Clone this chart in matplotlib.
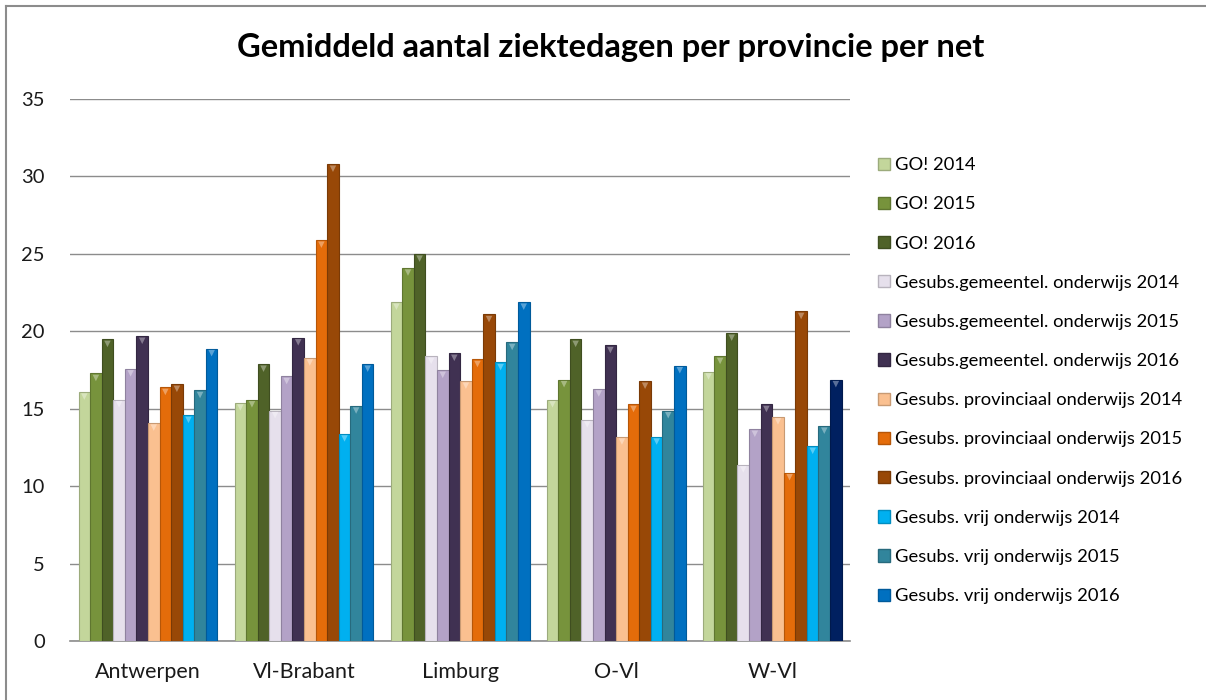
import matplotlib.pyplot as plt
import matplotlib.colors as mcolors
from matplotlib.lines import Line2D
import numpy as np

plt.rcParams['font.family'] = ['Lato', 'DejaVu Sans']

provinces = ["Antwerpen", "Vl-Brabant", "Limburg", "O-Vl", "W-Vl"]

series_names = [
    "GO! 2014", "GO! 2015", "GO! 2016",
    "Gesubs.gemeentel. onderwijs 2014", "Gesubs.gemeentel. onderwijs 2015",
    "Gesubs.gemeentel. onderwijs 2016",
    "Gesubs. provinciaal onderwijs 2014", "Gesubs. provinciaal onderwijs 2015",
    "Gesubs. provinciaal onderwijs 2016",
    "Gesubs. vrij onderwijs 2014", "Gesubs. vrij onderwijs 2015",
    "Gesubs. vrij onderwijs 2016",
]

# one list per series, values for Antwerpen, Vl-Brabant, Limburg, O-Vl, W-Vl
go_2014 = [16.1, 15.4, 21.9, 15.6, 17.4]
go_2015 = [17.3, 15.6, 24.1, 16.9, 18.4]
go_2016 = [19.5, 17.9, 25.0, 19.5, 19.9]
gem_2014 = [15.6, 14.9, 18.4, 14.3, 11.4]
gem_2015 = [17.6, 17.1, 17.5, 16.3, 13.7]
gem_2016 = [19.7, 19.6, 18.6, 19.1, 15.3]
prov_2014 = [14.1, 18.3, 16.8, 13.2, 14.5]
prov_2015 = [16.4, 25.9, 18.2, 15.3, 10.9]
prov_2016 = [16.6, 30.8, 21.1, 16.8, 21.3]
vrij_2014 = [14.6, 13.4, 18.0, 13.2, 12.6]
vrij_2015 = [16.2, 15.2, 19.3, 14.9, 13.9]
vrij_2016 = [18.9, 17.9, 21.9, 17.8, 16.9]

values = [go_2014, go_2015, go_2016, gem_2014, gem_2015, gem_2016,
          prov_2014, prov_2015, prov_2016, vrij_2014, vrij_2015, vrij_2016]

colors = ["#c3d69b", "#77933c", "#4f6228",
          "#e6e0ec", "#b3a2c7", "#403152",
          "#fac090", "#e46c0a", "#984807",
          "#00b0f0", "#31859c", "#0070c0"]
# the last bar of W-Vl is drawn in navy in the original
special_color = {(11, 4): "#002060"}


def shade(c, f):
    r, g, b = mcolors.to_rgb(c)
    if f > 1:
        return (r + (1 - r) * (f - 1), g + (1 - g) * (f - 1), b + (1 - b) * (f - 1))
    return (r * f, g * f, b * f)


fig = plt.figure(figsize=(12.06, 7.0), dpi=100)
ax = fig.add_axes([0.058, 0.0836, 0.647, 0.775])

x = np.arange(len(provinces))
n = len(series_names)
bw = 0.89 / n
for i, (name, vals) in enumerate(zip(series_names, values)):
    pos = x - 0.445 + bw * (i + 0.5)
    cols = [special_color.get((i, j), colors[i]) for j in range(len(vals))]
    ax.bar(pos, vals, width=bw, color=cols, edgecolor=[shade(c, 0.8) for c in cols],
           linewidth=0.8, label=name, zorder=3)
    # light bevel triangle on top of each bar
    ax.scatter(pos, np.array(vals) - 0.3, marker="v", s=22,
               color=[shade(c, 1.35) for c in cols], linewidths=0, zorder=4)

ax.set_xlim(-0.5, len(provinces) - 0.5)
ax.set_ylim(0, 35)
ax.set_yticks(range(0, 36, 5))
ax.set_xticks(x)
ax.set_xticklabels(provinces)
ax.grid(axis="y", color="#8c8c8c", linewidth=1.0, zorder=0)
ax.tick_params(axis="both", length=0, colors="#1a1a1a")
ax.tick_params(axis="y", pad=18, labelsize=14.5)
ax.tick_params(axis="x", pad=15, labelsize=15.5)
for s in ["top", "right", "left"]:
    ax.spines[s].set_visible(False)
ax.spines["bottom"].set_color("#8c8c8c")
ax.spines["bottom"].set_linewidth(1.2)

fig.suptitle("Gemiddeld aantal ziektedagen per provincie per net",
             x=0.506, y=0.953, fontsize=23.5, fontweight="bold")

handles = [plt.Rectangle((0, 0), 1, 1, facecolor=c, edgecolor=shade(c, 0.8))
           for c in colors]
fig.legend(handles, series_names, loc="upper left", bbox_to_anchor=(0.722, 0.786),
           frameon=False, fontsize=13.25, handlelength=0.65, handleheight=0.65,
           handletextpad=0.25, labelspacing=1.26, borderaxespad=0)

# frame of the chart area (left and top edges visible)
fig.add_artist(Line2D([0.005, 0.005], [0.0, 0.991], color="#8c8c8c", linewidth=1.5))
fig.add_artist(Line2D([0.005, 1.0], [0.991, 0.991], color="#8c8c8c", linewidth=1.5))

fig.savefig("out.png", dpi=100)
